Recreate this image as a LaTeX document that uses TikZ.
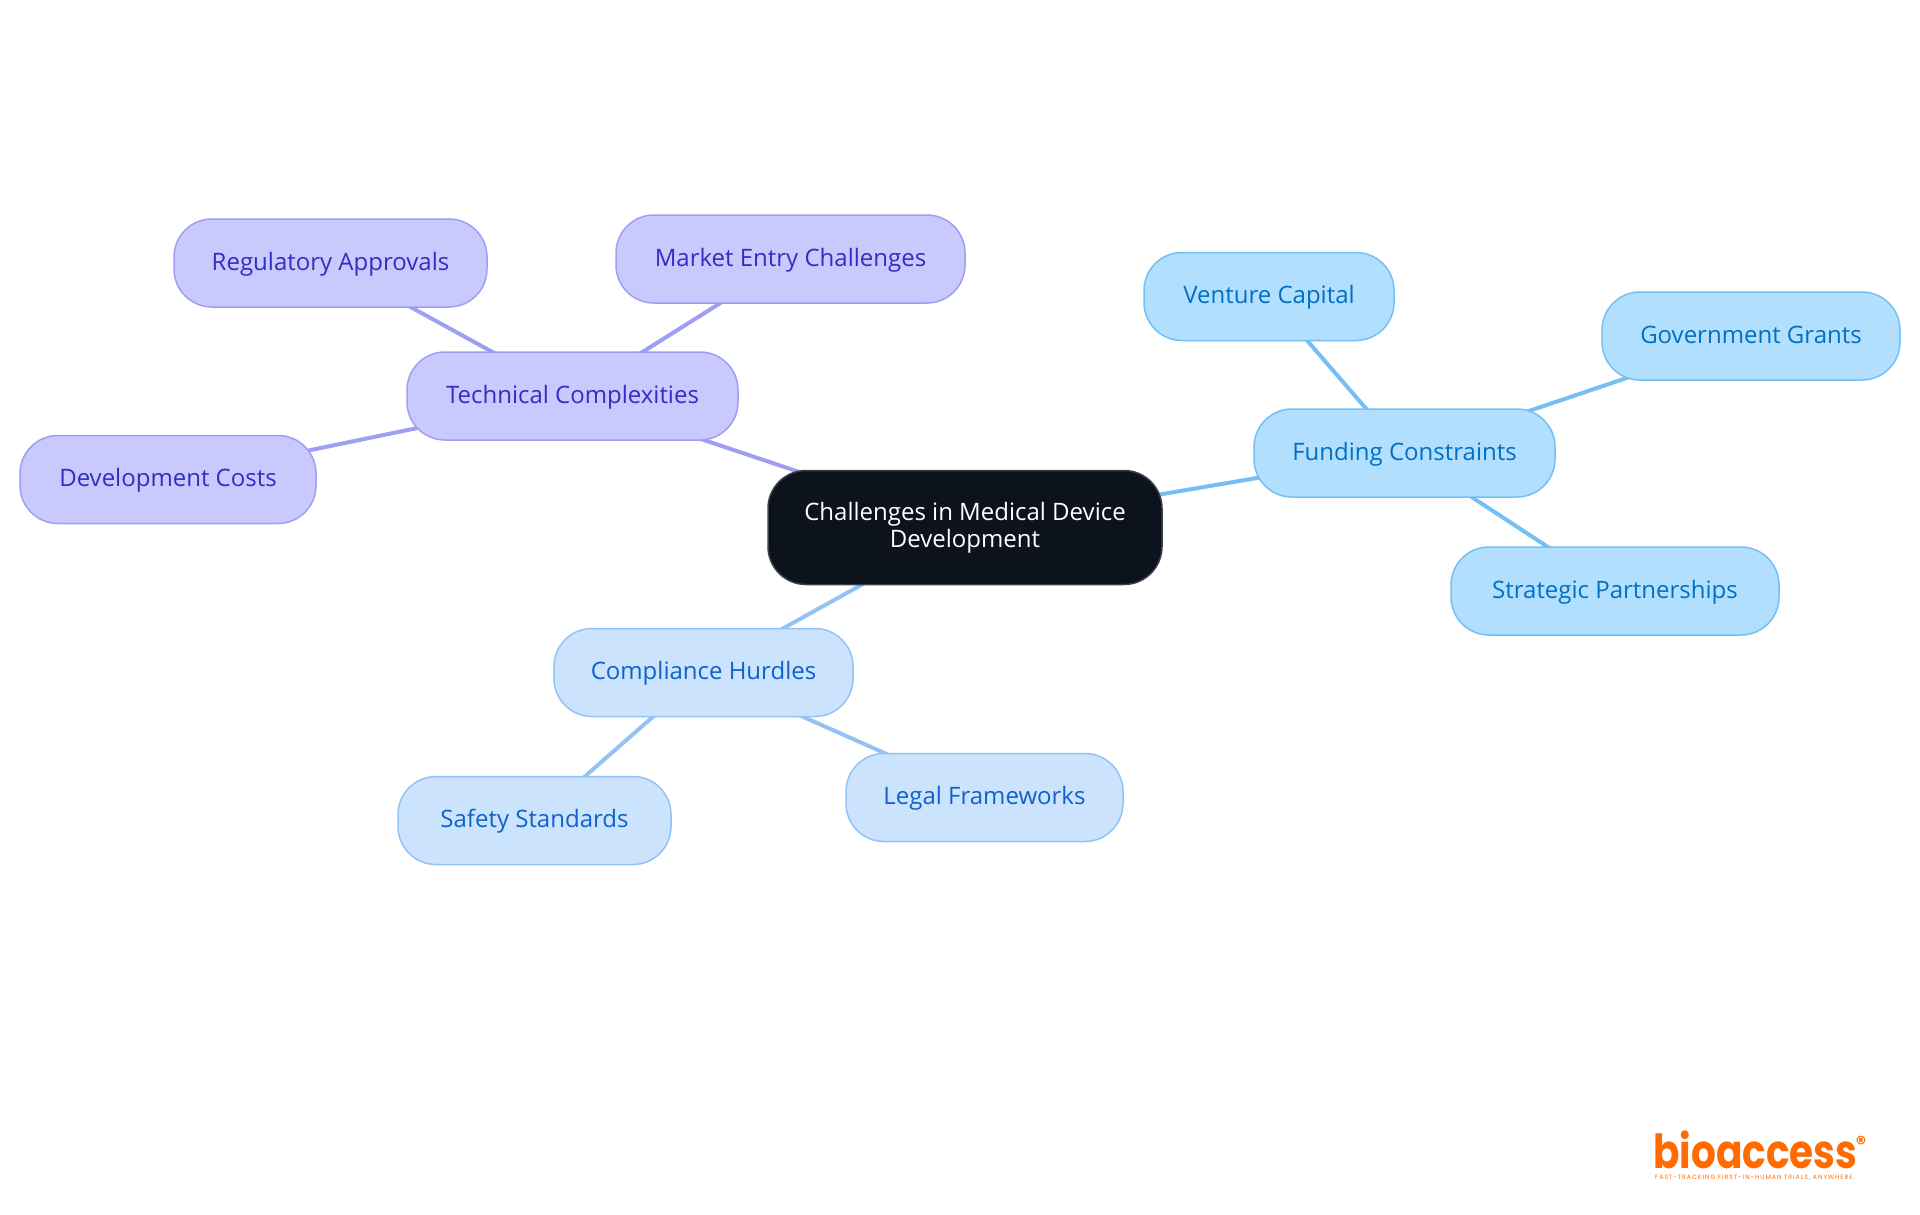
\documentclass[tikz,border=0pt]{standalone}
\usepackage{fontspec}
\setmainfont{Open Sans}
\newfontfamily\logofont{Poppins}
\newfontfamily\tagfont[LetterSpace=16]{Poppins}
\usetikzlibrary{backgrounds}
\definecolor{rootfill}{HTML}{0C131C}
\definecolor{rootline}{HTML}{3A4048}
\definecolor{purpfill}{HTML}{C9C9FD}
\definecolor{purpline}{HTML}{9E9EF2}
\definecolor{purptext}{HTML}{2F2FC4}
\definecolor{skyfill}{HTML}{B3DFFF}
\definecolor{skyline}{HTML}{75BFF3}
\definecolor{skytext}{HTML}{0070C4}
\definecolor{palefill}{HTML}{CCE3FD}
\definecolor{paleline}{HTML}{93C3F3}
\definecolor{paletext}{HTML}{0F62C9}
\definecolor{logoorange}{HTML}{FF6B00}
\tikzset{
  x=1pt,y=-1pt,
  pill/.style={rounded corners=38pt,inner sep=0pt,line width=1.5pt,align=center,
    font=\fontsize{24}{27}\selectfont,text height=18pt,text depth=4pt},
  rootpill/.style={pill,fill=rootfill,draw=rootline,text=white,text height=,text depth=},
  purpill/.style={pill,fill=purpfill,draw=purpline,text=purptext},
  skypill/.style={pill,fill=skyfill,draw=skyline,text=skytext},
  palepill/.style={pill,fill=palefill,draw=paleline,text=paletext},
  purpedge/.style={draw=purpline,line width=4pt},
  skyedge/.style={draw=skyline,line width=4pt},
  paleedge/.style={draw=paleline,line width=4pt},
}
\begin{document}
\begin{tikzpicture}
\useasboundingbox (0,0) rectangle (1920,1215);
\node[rootpill,minimum width=394pt,minimum height=114pt] (root) at (965,527.5) {Challenges in Medical Device\\Development};
\node[purpill,minimum width=331pt,minimum height=88pt] (tech) at (572.5,396) {Technical Complexities};
\node[purpill,minimum width=313pt,minimum height=88pt] (reg) at (330.5,263) {Regulatory Approvals};
\node[purpill,minimum width=349pt,minimum height=88pt] (market) at (790.5,259) {Market Entry Challenges};
\node[purpill,minimum width=296pt,minimum height=88pt] (dev) at (168,479.5) {Development Costs};
\node[skypill,minimum width=301pt,minimum height=88pt] (fund) at (1404.5,453) {Funding Constraints};
\node[skypill,minimum width=250pt,minimum height=88pt] (vc) at (1269,296.5) {Venture Capital};
\node[skypill,minimum width=298pt,minimum height=88pt] (gov) at (1751,336) {Government Grants};
\node[skypill,minimum width=328pt,minimum height=88pt] (part) at (1615,591) {Strategic Partnerships};
\node[palepill,minimum width=299pt,minimum height=88pt] (comp) at (703.5,672.5) {Compliance Hurdles};
\node[palepill,minimum width=273pt,minimum height=88pt] (safe) at (534.5,820.5) {Safety Standards};
\node[palepill,minimum width=277pt,minimum height=88pt] (legal) at (984.5,797.5) {Legal Frameworks};
\begin{scope}[on background layer]
\path[purpedge] (root.center) -- (tech.center);
\path[purpedge] (tech.center) -- (reg.center);
\path[purpedge] (tech.center) -- (market.center);
\path[purpedge] (tech.center) -- (dev.center);
\path[skyedge] (root.center) -- (fund.center);
\path[skyedge] (fund.center) -- (vc.center);
\path[skyedge] (fund.center) -- (gov.center);
\path[skyedge] (fund.center) -- (part.center);
\path[paleedge] (root.center) -- (comp.center);
\path[paleedge] (comp.center) -- (safe.center);
\path[paleedge] (comp.center) -- (legal.center);
\end{scope}
\node[anchor=base west,inner sep=0pt,text=logoorange,xscale=0.83,transform shape,text depth=0pt,font=\logofont\bfseries\fontsize{47}{47}\selectfont] (logo) at (1653,1168) {bioaccess};
\node[anchor=base west,inner sep=0pt,text=logoorange,font=\tagfont\fontsize{6.2}{7}\selectfont] (tag) at (1655,1179.5) {FAST-TRACKING FIRST-IN-HUMAN TRIALS, ANYWHERE};
\node[anchor=center,inner sep=0pt,text=logoorange,font=\logofont\bfseries\fontsize{20}{20}\selectfont] (regmark) at (1861,1143) {®};
\end{tikzpicture}
\end{document}
